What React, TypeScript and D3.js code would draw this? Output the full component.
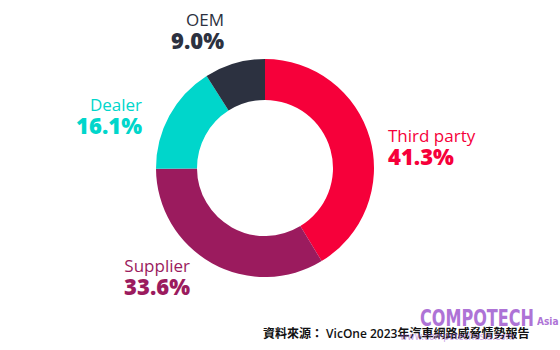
import React from "react";
import * as d3 from "d3";

const categories = ["Third party", "Supplier", "Dealer", "OEM"];
const values = [41.3, 33.6, 16.1, 9.0];
const colors = ["#F6003A", "#9B1B5E", "#00D6CB", "#2C3140"];
const labelPos: [number, number, string][] = [
  [388, 142, "start"],
  [190, 272, "end"],
  [142, 111, "end"],
  [224, 26, "end"],
];
const sourceText = "資料來源： VicOne 2023年汽車網路威脅情勢報告";

export default function App() {
  const W = 560, H = 350;
  const cx = 265, cy = 168, R = 109, r = 68;
  const pie = d3.pie<number>().sort(null).value((d) => d)(values);
  const arc = d3.arc<d3.PieArcDatum<number>>().innerRadius(r).outerRadius(R);
  return (
    <svg width={W} height={H} style={{ position: "absolute", left: 0, top: 0, background: "#fff" }}
      fontFamily="'Open Sans', sans-serif">
      <g transform={`translate(${cx},${cy})`}>
        {pie.map((p, i) => (
          <path key={i} d={arc(p) || ""} fill={colors[i]} />
        ))}
      </g>
      {categories.map((c, i) => (
        <g key={c}>
          <text x={labelPos[i][0]} y={labelPos[i][1]} textAnchor={labelPos[i][2] as any}
            fontSize={17} fill={colors[i]}>{c}</text>
          <text x={labelPos[i][0]} y={labelPos[i][1] + 23} textAnchor={labelPos[i][2] as any}
            fontSize={22} fontWeight={800} fill={colors[i]}>{values[i].toFixed(1)}%</text>
        </g>
      ))}
      <text x={420} y={326} fontFamily="'Liberation Sans Narrow', 'DejaVu Sans Condensed', sans-serif"
        fontSize={23} fontWeight={700} fill="#A15BD0" opacity={0.85}
        textLength={114} lengthAdjust="spacingAndGlyphs">COMPOTECH</text>
      <text x={537} y={325} fontFamily="'DejaVu Sans Condensed', sans-serif" fontSize={10} fontWeight={700}
        fill="#A15BD0" opacity={0.85}>Asia</text>
      <text x={263} y={338} fontSize={12} fontWeight={600} fill="#111"
        fontFamily="'Open Sans', 'Noto Sans CJK TC', sans-serif">{sourceText}</text>
      <text x={400} y={340} fontSize={10} fill="#A15BD0" opacity={0.55}
        fontFamily="'DejaVu Sans Condensed', sans-serif">www.compotechasia.com</text>
    </svg>
  );
}
